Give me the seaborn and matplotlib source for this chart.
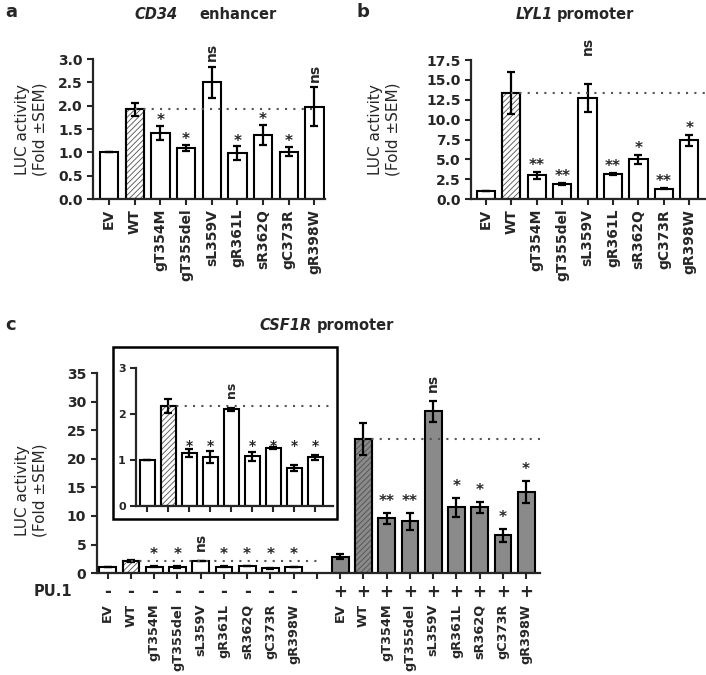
import numpy as np
import pandas as pd
import seaborn as sns
import matplotlib
matplotlib.use("Agg")
import matplotlib.pyplot as plt
from matplotlib.patches import Rectangle
from matplotlib.transforms import blended_transform_factory

# Data
mutants = ["EV", "WT", "gT354M", "gT355del", "sL359V", "gR361L", "sR362Q", "gC373R", "gR398W"]

cd34_mean = [1.0, 1.92, 1.42, 1.10, 2.50, 0.98, 1.37, 1.02, 1.98]
cd34_sem = [0, 0.13, 0.15, 0.07, 0.33, 0.15, 0.22, 0.10, 0.42]
cd34_sig = ["", "", "*", "*", "ns", "*", "*", "*", "ns"]

lyl1_mean = [1.0, 13.4, 3.0, 1.85, 12.7, 3.2, 5.0, 1.3, 7.4]
lyl1_sem = [0, 2.65, 0.45, 0.12, 1.75, 0.12, 0.6, 0.08, 0.7]
lyl1_sig = ["", "", "**", "**", "ns", "**", "*", "**", "*"]

csf_minus_mean = [1.0, 2.17, 1.15, 1.06, 2.10, 1.08, 1.26, 0.83, 1.06]
csf_minus_sem = [0, 0.15, 0.08, 0.13, 0.03, 0.10, 0.02, 0.07, 0.05]
csf_minus_sig = ["", "", "*", "*", "ns", "*", "*", "*", "*"]

csf_plus_mean = [2.9, 23.5, 9.6, 9.1, 28.3, 11.5, 11.5, 6.6, 14.2]
csf_plus_sem = [0.4, 2.8, 1.0, 1.5, 1.9, 1.6, 0.9, 1.2, 2.0]
csf_plus_sig = ["", "", "**", "**", "ns", "*", "*", "*", "*"]

sns.set_theme(style="ticks")
plt.rcParams["font.family"] = ["DejaVu Sans"]
plt.rcParams["hatch.linewidth"] = 0.6
plt.rcParams["axes.linewidth"] = 1.6

GRAY = "#8a8a8a"
DOT = (0, (1, 3))


def draw_bars(ax, order, keys, means, sems, faces, hatched):
    df = pd.DataFrame({"key": keys, "val": means})
    sns.barplot(data=df, x="key", y="val", order=order, color="white",
                saturation=1, edgecolor="black", linewidth=1.5, width=0.72,
                errorbar=None, ax=ax)
    xs = [order.index(k) for k in keys]
    face_of = dict(zip(xs, faces))
    for p in list(ax.patches):
        i = int(round(p.get_x() + p.get_width() / 2))
        p.set_facecolor(face_of[i])
        if i in hatched:
            # gray hatch lines, black outline drawn on top
            p.set_edgecolor("#505050")
            p.set_hatch("//////")
            ax.add_patch(Rectangle(p.get_xy(), p.get_width(), p.get_height(),
                                   fill=False, edgecolor="black", linewidth=1.5,
                                   zorder=p.get_zorder() + 0.1))
    ax.errorbar(xs, means, yerr=sems, fmt="none", ecolor="black",
                elinewidth=1.6, capsize=3, capthick=1.6, zorder=4)
    ax.set_xlabel("")
    ax.set_ylabel("")
    return xs


def mark(ax, xs, tops, sigs, star_pad=1.0, ns_pad=4, star_level=None,
         ns_y=None, fs=11, ns_fs=10):
    for x, top, s in zip(xs, tops, sigs):
        if not s:
            continue
        if s == "ns":
            y = top if ns_y is None else ns_y
            ax.annotate("ns", (x, y), xytext=(0, ns_pad), textcoords="offset points",
                        rotation=90, ha="center", va="bottom", fontsize=ns_fs,
                        fontweight="bold", annotation_clip=False)
        else:
            y = top if star_level is None else star_level
            ax.annotate(s, (x, y), xytext=(0, star_pad), textcoords="offset points",
                        ha="center", va="baseline", fontsize=fs,
                        fontweight="bold", annotation_clip=False)


def style_axis(ax, yticks, fmt, xpad=3, labelsize=10, xlabelsize=None):
    ax.set_yticks(yticks)
    ax.set_yticklabels([fmt.format(v) for v in yticks])
    ax.tick_params(axis="both", length=4, width=1.5, labelsize=labelsize,
                   direction="out")
    ax.tick_params(axis="x", rotation=90, pad=xpad,
                   labelsize=xlabelsize or labelsize)
    for lab in ax.get_xticklabels() + ax.get_yticklabels():
        lab.set_fontweight("bold")
    sns.despine(ax=ax)


fig = plt.figure(figsize=(7.06, 6.75), dpi=100)

# ---- panel a
ax_a = fig.add_axes([0.132, 0.705, 0.328, 0.2075])
faces = ["white"] * 9
xs = draw_bars(ax_a, mutants, mutants, cd34_mean, cd34_sem, faces, {1})
ax_a.set_xlim(-0.62, 8.4)
ax_a.set_ylim(0, 3.0)
ax_a.hlines(cd34_mean[1], 1, 8, colors="#555555", linestyles=DOT, linewidth=1.5, zorder=5)
tops = np.array(cd34_mean) + np.array(cd34_sem)
mark(ax_a, xs, tops, cd34_sig, star_pad=0.5, ns_pad=4)
style_axis(ax_a, np.arange(0, 3.01, 0.5), "{:.1f}")
ax_a.set_ylabel("LUC activity\n(Fold \u00b1SEM)", fontsize=11)
ax_a.yaxis.set_label_coords(-0.198, 0.5)

# ---- panel b
ax_b = fig.add_axes([0.667, 0.705, 0.331, 0.206])
xs = draw_bars(ax_b, mutants, mutants, lyl1_mean, lyl1_sem, faces, {1})
ax_b.set_xlim(-0.59, 8.6)
ax_b.set_ylim(0, 17.5)
ax_b.hlines(lyl1_mean[1], 1, 8.6, colors="#555555", linestyles=DOT, linewidth=1.5, zorder=5)
tops = np.array(lyl1_mean) + np.array(lyl1_sem)
mark(ax_b, xs, tops, lyl1_sig, star_pad=1.5, ns_pad=0, ns_y=18.1)
style_axis(ax_b, np.arange(0, 17.51, 2.5), "{:.1f}")
ax_b.set_ylabel("LUC activity\n(Fold \u00b1SEM)", fontsize=11)
ax_b.yaxis.set_label_coords(-0.302, 0.5)

# ---- panel c
keys_minus = [m + "-" for m in mutants]
keys_plus = [m + "+" for m in mutants]
order_c = keys_minus + ["gap"] + keys_plus
ax_c = fig.add_axes([0.137, 0.151, 0.628, 0.2963])
xs_c = draw_bars(ax_c, order_c, keys_minus + keys_plus,
                 csf_minus_mean + csf_plus_mean, csf_minus_sem + csf_plus_sem,
                 ["white"] * 9 + [GRAY] * 9, {1, 11})
ax_c.set_xlim(-0.47, 18.6)
ax_c.set_ylim(0, 35)
ax_c.set_xticks(range(19))
ax_c.set_xticklabels(mutants + [""] + mutants)
ax_c.hlines(csf_minus_mean[1], 1, 9, colors="#555555", linestyles=DOT, linewidth=1.5, zorder=5)
ax_c.hlines(csf_plus_mean[1], 11, 18.6, colors="#555555", linestyles=DOT, linewidth=1.5, zorder=5)
tops_m = np.array(csf_minus_mean) + np.array(csf_minus_sem)
tops_p = np.array(csf_plus_mean) + np.array(csf_plus_sem)
mark(ax_c, xs_c[:9], tops_m, csf_minus_sig, star_pad=0, star_level=2.45, ns_pad=7)
mark(ax_c, xs_c[9:], tops_p, csf_plus_sig, star_pad=5, ns_pad=6)
style_axis(ax_c, np.arange(0, 36, 5), "{:d}", xpad=18, xlabelsize=9.3)
ax_c.set_ylabel("LUC activity\n(Fold \u00b1SEM)", fontsize=11)
ax_c.yaxis.set_label_coords(-0.111, 0.415)

# PU.1 row
tr = blended_transform_factory(ax_c.transData, fig.transFigure)
fig.text(0.075, 0.123, "PU.1", ha="center", va="center", fontsize=10.5, fontweight="bold")
for i, x in enumerate(xs_c):
    sign = "-" if i < 9 else "+"
    ax_c.text(x, 0.123, sign, transform=tr, ha="center", va="center",
              fontsize=12, fontweight="bold")

# inset
ax_in = fig.add_axes([0.193, 0.2504, 0.279, 0.2044])
xs = draw_bars(ax_in, mutants, mutants, csf_minus_mean, csf_minus_sem, faces, {1})
ax_in.set_xlim(-0.52, 8.86)
ax_in.set_ylim(0, 3)
ax_in.hlines(csf_minus_mean[1], 1, 8.86, colors="#555555", linestyles=DOT, linewidth=1.5, zorder=5)
mark(ax_in, xs, tops_m, csf_minus_sig, star_pad=0, star_level=1.22,
     ns_pad=7, fs=10, ns_fs=9)
style_axis(ax_in, [0, 1, 2, 3], "{:d}", labelsize=8)
ax_in.set_xticklabels([])
ax_in.patch.set_alpha(0)
fig.add_artist(Rectangle((0.160, 0.231), 0.317, 0.255, fill=False,
                         linewidth=1.8, edgecolor="black",
                         transform=fig.transFigure))

# titles and panel letters
fig.text(0.252, 0.978, "CD34", ha="right", va="center", fontsize=10.5,
         fontweight="bold", style="italic")
fig.text(0.282, 0.978, "enhancer", ha="left", va="center", fontsize=10.5, fontweight="bold")
fig.text(0.783, 0.978, "LYL1", ha="right", va="center", fontsize=10.5,
         fontweight="bold", style="italic")
fig.text(0.789, 0.978, "promoter", ha="left", va="center", fontsize=10.5, fontweight="bold")
fig.text(0.442, 0.518, "CSF1R", ha="right", va="center", fontsize=10.5,
         fontweight="bold", style="italic")
fig.text(0.448, 0.518, "promoter", ha="left", va="center", fontsize=10.5, fontweight="bold")
fig.text(0.007, 0.982, "a", ha="left", va="center", fontsize=13, fontweight="bold")
fig.text(0.505, 0.982, "b", ha="left", va="center", fontsize=13, fontweight="bold")
fig.text(0.007, 0.518, "c", ha="left", va="center", fontsize=13, fontweight="bold")

fig.savefig("out.png", dpi=100)
